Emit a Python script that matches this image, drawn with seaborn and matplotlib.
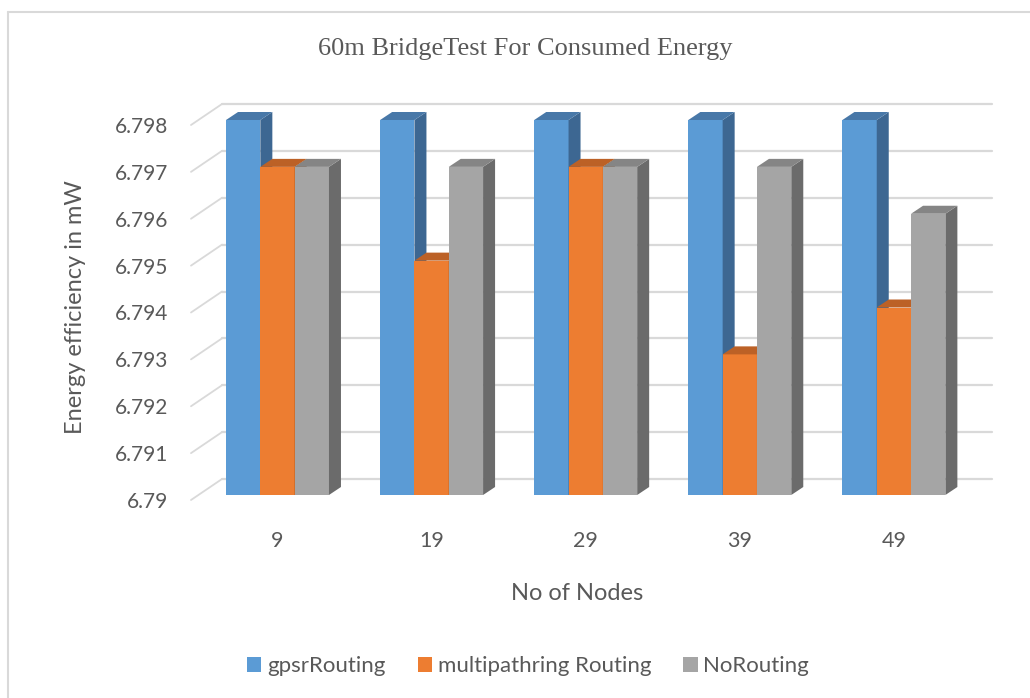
import matplotlib
matplotlib.use("Agg")
import numpy as np
import pandas as pd
import matplotlib.pyplot as plt
from matplotlib.patches import Polygon, Patch
from matplotlib.lines import Line2D
from matplotlib.transforms import ScaledTranslation
import seaborn as sns

# ---- data -------------------------------------------------------------
nodes = ["9", "19", "29", "39", "49"]
gpsr_routing = [6.798, 6.798, 6.798, 6.798, 6.798]
multipathring_routing = [6.797, 6.795, 6.797, 6.793, 6.794]
no_routing = [6.797, 6.797, 6.797, 6.797, 6.796]
series_names = ["gpsrRouting", "multipathring Routing", "NoRouting"]
y_ticks = [6.79, 6.791, 6.792, 6.793, 6.794, 6.795, 6.796, 6.797, 6.798]
y_tick_labels = ["6.79", "6.791", "6.792", "6.793", "6.794",
                 "6.795", "6.796", "6.797", "6.798"]

df = pd.DataFrame({
    "nodes": nodes * 3,
    "energy": gpsr_routing + multipathring_routing + no_routing,
    "routing": [s for s in series_names for _ in nodes],
})

# ---- style ------------------------------------------------------------
front_colors = ["#5B9BD5", "#ED7D31", "#A5A5A5"]
top_colors = ["#4878A8", "#BC6126", "#858585"]
side_colors = ["#3D6792", "#A4551F", "#6B6B6B"]
text_color = "#595959"
grid_color = "#D9D9D9"

sns.set_style("white")
plt.rcParams["font.family"] = ["Lato", "DejaVu Sans"]

W, H = 1030, 698
fig = plt.figure(figsize=(W / 100, H / 100), dpi=100)
fig.patch.set_facecolor("white")

# axes box in pixels (front plane)
left_px, right_px, base_px, top_px = 191, 992, 495, 95
ax = fig.add_axes([left_px / W, (H - base_px) / H,
                   (right_px - left_px) / W, (base_px - top_px) / H])

sns.barplot(data=df, x="nodes", y="energy", hue="routing",
            palette=front_colors, width=0.668, saturation=1,
            linewidth=0, legend=False, ax=ax)

group_px = 154.1          # spacing between categories
first_center_px = 277.5
val_px = 46875.0          # pixels per unit of energy
ax.set_xlim((left_px - first_center_px) / group_px,
            (right_px - first_center_px) / group_px)
ax.set_ylim(y_ticks[0], y_ticks[0] + (base_px - top_px) / val_px)

xl0, xl1 = ax.get_xlim()
yl0, yl1 = ax.get_ylim()


def dx(px):
    return px * (xl1 - xl0) / (right_px - left_px)


def dy(px):
    return px * (yl1 - yl0) / (base_px - top_px)


# back wall grid with the slanted left edge
wall_dx, wall_dy, front_drop = 31, 16, 5
for v in y_ticks:
    ax.add_line(Line2D([xl0 + dx(wall_dx), xl1], [v + dy(wall_dy)] * 2,
                       color=grid_color, lw=1.6, zorder=1, clip_on=False))
    ax.add_line(Line2D([xl0, xl0 + dx(wall_dx)],
                       [v - dy(front_drop), v + dy(wall_dy)],
                       color=grid_color, lw=1.3, zorder=1, clip_on=False))

# extruded bar faces
depth_x, depth_y = dx(12), dy(8)
base = y_ticks[0]
for h, container in enumerate(ax.containers):
    for bar in container:
        x0 = bar.get_x()
        x1 = x0 + bar.get_width()
        top = bar.get_y() + bar.get_height()
        bar.set_zorder(3 + 3 * h)
        side = Polygon([(x1, base), (x1 + depth_x, base + depth_y),
                        (x1 + depth_x, top + depth_y), (x1, top)],
                       closed=True, facecolor=side_colors[h],
                       edgecolor="none", zorder=4 + 3 * h)
        cap = Polygon([(x0, top), (x1, top), (x1 + depth_x, top + depth_y),
                       (x0 + depth_x, top + depth_y)],
                      closed=True, facecolor=top_colors[h],
                      edgecolor="none", zorder=5 + 3 * h)
        ax.add_patch(side)
        ax.add_patch(cap)

# axes decoration
for s in ax.spines.values():
    s.set_visible(False)
ax.set_yticks(y_ticks, y_tick_labels)
ax.tick_params(axis="y", length=0, pad=16.5, labelsize=15, labelcolor=text_color)
ax.tick_params(axis="x", length=0, pad=26, labelsize=15.5, labelcolor=text_color)
shift = ScaledTranslation(0, -front_drop / 100, fig.dpi_scale_trans)
for lab in ax.get_yticklabels():
    lab.set_transform(lab.get_transform() + shift)
ax.set_xlabel("")
ax.set_ylabel("")
ax.grid(False)

fig.text(577 / W, 1 - 593 / H, "No of Nodes", ha="center", va="center",
         fontsize=17, color=text_color)
fig.text(75 / W, 1 - 307 / H, "Energy efficiency in mW", ha="center",
         va="center", rotation=90, fontsize=17, color=text_color)
fig.text(525 / W, 1 - 49 / H, "60m BridgeTest For Consumed Energy",
         ha="center", va="center", fontsize=19, color=text_color,
         family="Liberation Serif")

handles = [Patch(facecolor=c, edgecolor="none") for c in front_colors]
fig.legend(handles, series_names, loc="center", ncol=3,
           bbox_to_anchor=(528 / W, 1 - 666 / H), frameon=False,
           fontsize=16, labelcolor=text_color, handlelength=0.65,
           handleheight=0.65, handletextpad=0.25, columnspacing=1.45)

# chart frame
fig.add_artist(Line2D([8 / W, 8 / W], [0, 1 - 12 / H], transform=fig.transFigure,
                      color=grid_color, lw=1.5))
fig.add_artist(Line2D([8 / W, 1], [1 - 12 / H, 1 - 12 / H],
                      transform=fig.transFigure, color=grid_color, lw=1.5))

fig.savefig("out.png", dpi=100, facecolor="white")
